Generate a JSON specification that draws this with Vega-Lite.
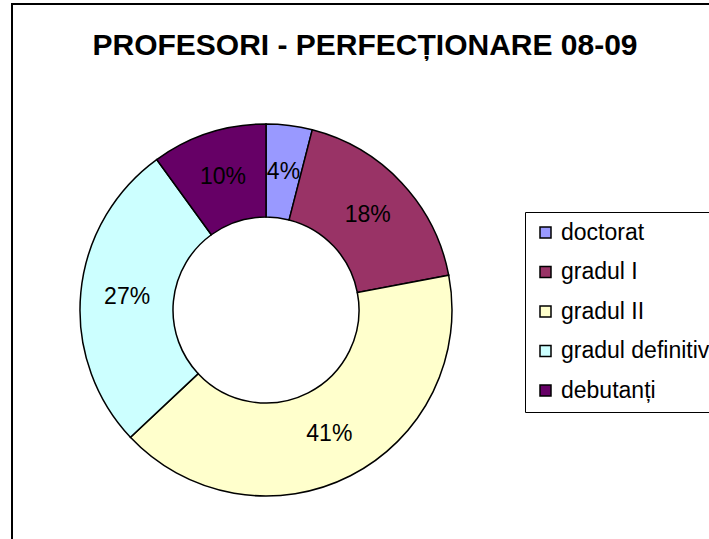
{
  "$schema": "https://vega.github.io/schema/vega-lite/v6.json",
  "width": 720,
  "height": 560,
  "autosize": {"type": "none"},
  "padding": {"left": 12, "top": 4, "right": 0, "bottom": 0},
  "background": "white",
  "title": {
    "text": "PROFESORI - PERFECȚIONARE 08-09",
    "font": "Liberation Sans",
    "fontSize": 30,
    "fontWeight": "bold",
    "color": "black",
    "anchor": "middle",
    "dx": -7,
    "dy": 29,
    "baseline": "alphabetic",
    "offset": -53
  },
  "data": {
    "values": [
      {"cat": "doctorat", "value": 4, "label": "4%", "idx": 1},
      {"cat": "gradul I", "value": 18, "label": "18%", "idx": 2},
      {"cat": "gradul II", "value": 41, "label": "41%", "idx": 3},
      {"cat": "gradul definitiv", "value": 27, "label": "27%", "idx": 4},
      {"cat": "debutanți", "value": 10, "label": "10%", "idx": 5}
    ]
  },
  "layer": [
    {
      "data": {"values": [{"frame": 1}]},
      "mark": {"type": "rect", "fill": null, "fillOpacity": 0, "stroke": "black", "strokeWidth": 2},
      "encoding": {}
    },
    {
      "mark": {"type": "arc", "x": 254, "y": 306, "radius": 186, "radius2": 93, "stroke": "black", "strokeWidth": 1.5},
      "encoding": {
        "theta": {"field": "value", "type": "quantitative", "stack": true},
        "order": {"field": "idx", "type": "quantitative"},
        "color": {
          "field": "cat",
          "type": "nominal",
          "scale": {
            "domain": ["doctorat", "gradul I", "gradul II", "gradul definitiv", "debutanți"],
            "range": ["#9999FF", "#993366", "#FFFFCC", "#CCFFFF", "#660066"]
          },
          "legend": {
            "title": null,
            "orient": "none",
            "legendX": 513,
            "legendY": 208,
            "symbolType": "square",
            "symbolSize": 121,
            "symbolStrokeColor": "black",
            "symbolStrokeWidth": 1.5,
            "symbolOpacity": 1,
            "labelFont": "Liberation Sans",
            "labelFontSize": 23,
            "labelColor": "black",
            "labelOffset": 4,
            "labelLimit": 400,
            "rowPadding": 15.5,
            "padding": 9,
            "strokeColor": "black",
            "fillColor": "white"
          }
        }
      }
    },
    {
      "mark": {"type": "text", "x": 254, "y": 306, "radius": 139.5, "font": "Liberation Sans", "fontSize": 23, "color": "black"},
      "encoding": {
        "theta": {"field": "value", "type": "quantitative", "stack": true},
        "order": {"field": "idx", "type": "quantitative"},
        "text": {"field": "label", "type": "nominal"}
      }
    }
  ],
  "config": {
    "view": {"stroke": null}
  }
}
